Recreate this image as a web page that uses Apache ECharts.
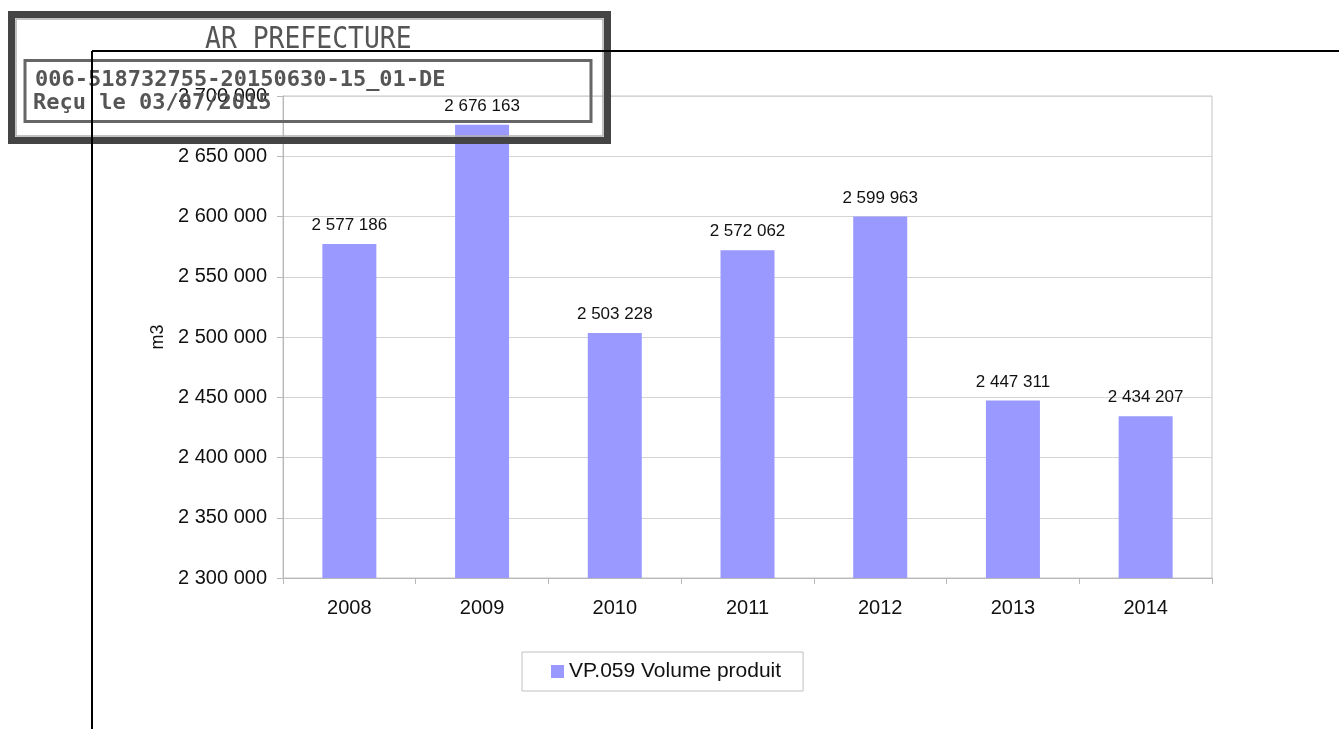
<!DOCTYPE html>
<html>
<head>
<meta charset="utf-8">
<script src="https://cdn.jsdelivr.net/npm/echarts@6/dist/echarts.min.js"></script>
<style>
  html, body { margin: 0; padding: 0; background: #fff; }
  #chart { width: 1339px; height: 729px; }
</style>
</head>
<body>
<div id="chart"></div>
<script>
// data
const years = ['2008', '2009', '2010', '2011', '2012', '2013', '2014'];
const volumes = [2577186, 2676163, 2503228, 2572062, 2599963, 2447311, 2434207];
const seriesName = 'VP.059 Volume produit';
const yUnit = 'm3';
const stampLines = ['AR PREFECTURE', '006-518732755-20150630-15_01-DE', 'Reçu le 03/07/2015'];

function spaced(v) {
  return String(v).replace(/\B(?=(\d{3})+(?!\d))/g, ' ');
}

const chart = echarts.init(document.getElementById('chart'));
const font = 'Liberation Sans, Arial, sans-serif';
const mono = 'DejaVu Sans Mono, Liberation Mono, monospace';

const option = {
  animation: false,
  backgroundColor: '#fff',
  textStyle: { fontFamily: font },
  grid: {
    left: 283, right: 127, top: 96, bottom: 151,
    show: true, borderColor: '#c4c4c4', borderWidth: 1
  },
  legend: {
    data: [seriesName],
    left: 522, top: 652,
    padding: [9, 22, 9, 29],
    borderColor: '#c0c0c0', borderWidth: 1,
    itemWidth: 13, itemHeight: 13,
    icon: 'rect',
    textStyle: { fontSize: 21, color: '#111', fontFamily: font }
  },
  xAxis: {
    type: 'category',
    data: years,
    axisLine: { lineStyle: { color: '#b8b8b8' } },
    axisTick: { show: true, length: 6, lineStyle: { color: '#b8b8b8' } },
    axisLabel: { fontSize: 20, color: '#111', margin: 20, fontFamily: font }
  },
  yAxis: {
    type: 'value',
    min: 2300000, max: 2700000, interval: 50000,
    name: yUnit,
    nameLocation: 'middle',
    nameGap: 115,
    nameRotate: 90,
    nameTextStyle: { fontSize: 18, color: '#111', fontFamily: font },
    axisLine: { show: true, lineStyle: { color: '#b8b8b8' } },
    axisTick: { show: true, length: 6, lineStyle: { color: '#b8b8b8' } },
    splitLine: { lineStyle: { color: '#d4d4d4' } },
    axisLabel: { fontSize: 20, color: '#111', margin: 16, fontFamily: font, formatter: spaced }
  },
  series: [{
    name: seriesName,
    type: 'bar',
    data: volumes,
    barWidth: 54,
    itemStyle: { color: '#9999ff' },
    label: {
      show: true, position: 'top', distance: 10,
      fontSize: 17, color: '#111', fontFamily: font,
      formatter: p => spaced(p.value)
    }
  }],
  graphic: [
    // stamp
    { type: 'rect', z: 50, silent: true, shape: { x: 11.5, y: 14.5, width: 596, height: 126 },
      style: { fill: null, stroke: '#444', lineWidth: 7 } },
    { type: 'rect', z: 50, silent: true, shape: { x: 16, y: 19, width: 587, height: 117 },
      style: { fill: null, stroke: '#b0b0b0', lineWidth: 1.5 } },
    { type: 'rect', z: 50, silent: true, shape: { x: 25, y: 60.5, width: 566, height: 61 },
      style: { fill: null, stroke: '#666', lineWidth: 3 } },
    { type: 'text', z: 50, silent: true, x: 205, y: 40, scaleX: 0.88, originX: 0,
      style: { text: stampLines[0], font: '30px ' + mono, fill: '#555', verticalAlign: 'middle' } },
    { type: 'text', z: 50, silent: true, x: 35, y: 80,
      style: { text: stampLines[1], font: 'bold 22px ' + mono, fill: '#555', verticalAlign: 'middle' } },
    { type: 'text', z: 50, silent: true, x: 33, y: 103,
      style: { text: stampLines[2], font: 'bold 22px ' + mono, fill: '#555', verticalAlign: 'middle' } },
    // black frame lines
    { type: 'line', z: 60, silent: true, shape: { x1: 92, y1: 51, x2: 1339, y2: 51 },
      style: { stroke: '#000', lineWidth: 2 } },
    { type: 'line', z: 60, silent: true, shape: { x1: 92, y1: 51, x2: 92, y2: 729 },
      style: { stroke: '#000', lineWidth: 2 } }
  ]
};

chart.setOption(option);
</script>
</body>
</html>
